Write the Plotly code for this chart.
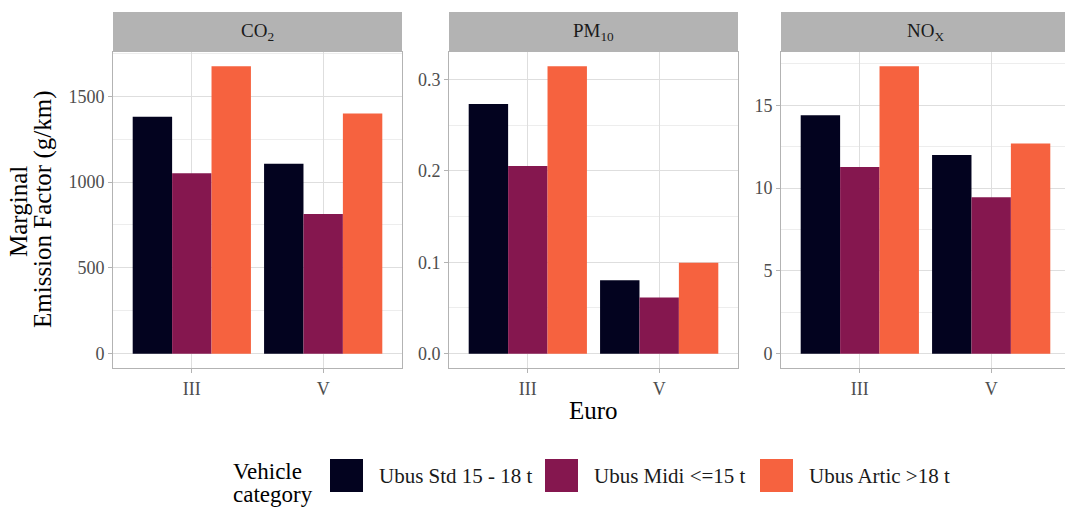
import plotly.graph_objects as go

W, H = 1065, 508

# ---- data ----
euro = ["III", "V"]
categories = ["Ubus Std 15 - 18 t", "Ubus Midi <=15 t", "Ubus Artic >18 t"]
colors = ["#03031F", "#85174F", "#F6623F"]

pollutants = ["CO<sub>2</sub>", "PM<sub>10</sub>", "NO<sub>X</sub>"]
co2 = {"Ubus Std 15 - 18 t": [1380, 1107],
       "Ubus Midi <=15 t": [1051, 813],
       "Ubus Artic >18 t": [1674, 1399]}
pm10 = {"Ubus Std 15 - 18 t": [0.2734, 0.0803],
        "Ubus Midi <=15 t": [0.2054, 0.0614],
        "Ubus Artic >18 t": [0.3145, 0.0996]}
nox = {"Ubus Std 15 - 18 t": [14.40, 12.00],
       "Ubus Midi <=15 t": [11.27, 9.44],
       "Ubus Artic >18 t": [17.35, 12.69]}
panel_data = [co2, pm10, nox]
y_dtick = [500, 0.1, 5]
y_tickformat = ["d", ".1f", "d"]

FONT = "'Liberation Serif', 'Times New Roman', 'DejaVu Serif', serif"
GRID = "#DEDEDE"
BORDER = "#B3B3B3"


def px(x):
    return x / W


def py(y):
    return 1 - y / H


# panel pixel geometry
panel_left = [113, 449, 781]
panel_w = 289
unit = panel_w / 2.2
ptop, pbot = 52, 368
strip_top = 12

fig = go.Figure()

for p, data in enumerate(panel_data):
    ax = "" if p == 0 else str(p + 1)
    for s, cat in enumerate(categories):
        fig.add_trace(go.Bar(
            x=euro, y=data[cat], name=cat,
            marker=dict(color=colors[s], line=dict(width=0)),
            xaxis="x" + ax, yaxis="y" + ax, showlegend=False,
        ))
    # expansion like ggplot (5%)
    vmax = max(max(v) for v in data.values())
    pad = 0.05 * vmax
    x0 = panel_left[p]
    x1 = min(x0 + panel_w, W)
    xr_end = -0.6 + (x1 - x0) / unit
    last = (p == 2)
    fig.layout["xaxis" + ax] = dict(
        domain=[px(x0), px(x1)], anchor="y" + ax, type="category",
        categoryorder="array", categoryarray=euro,
        range=[-0.6, xr_end], showgrid=True, gridcolor=GRID, gridwidth=1,
        showline=True, linecolor=BORDER, linewidth=1, mirror=True,
        ticks="outside", ticklen=4, tickcolor=BORDER, tickwidth=1,
        tickfont=dict(family=FONT, size=18, color="#4D4D4D"),
        fixedrange=True,
    )
    fig.layout["yaxis" + ax] = dict(
        domain=[py(pbot), py(ptop)], anchor="x" + ax,
        range=[-pad, vmax + pad], dtick=y_dtick[p], tick0=0,
        tickformat=y_tickformat[p],
        showgrid=True, gridcolor=GRID, gridwidth=1, zeroline=False,
        minor=dict(dtick=y_dtick[p] / 2, showgrid=True, gridcolor="#EDEDED", gridwidth=0.6),
        showline=True, linecolor=BORDER, linewidth=1, mirror=not last,
        ticks="outside", ticklen=4, tickcolor=BORDER, tickwidth=1,
        tickfont=dict(family=FONT, size=18, color="#4D4D4D"),
        fixedrange=True,
    )
    # strip
    fig.add_shape(type="rect", xref="paper", yref="paper",
                  x0=px(x0), x1=px(x1 if not last else W + 10), y0=py(ptop), y1=py(strip_top),
                  fillcolor="#B3B3B3", line=dict(width=0), layer="above")
    fig.add_annotation(x=px(x0 + panel_w / 2), y=py((ptop + strip_top) / 2),
                       xref="paper", yref="paper", text=pollutants[p],
                       showarrow=False, xanchor="center", yanchor="middle",
                       font=dict(family=FONT, size=19, color="#1A1A1A"))

# axis titles
fig.add_annotation(x=px(593), y=py(410), xref="paper", yref="paper",
                   text="Euro", showarrow=False, xanchor="center", yanchor="middle",
                   font=dict(family=FONT, size=25, color="#000000"))
fig.add_annotation(x=px(19), y=py(212), xref="paper", yref="paper",
                   text="Marginal", showarrow=False, textangle=-90,
                   xanchor="center", yanchor="middle",
                   font=dict(family=FONT, size=25, color="#000000"))
fig.add_annotation(x=px(43), y=py(210), xref="paper", yref="paper",
                   text="Emission Factor (g/km)", showarrow=False, textangle=-90,
                   xanchor="center", yanchor="middle",
                   font=dict(family=FONT, size=25, color="#000000"))

# legend (drawn manually to match ggplot key sizes)
fig.add_annotation(x=px(231), y=py(471), xref="paper", yref="paper",
                   text="Vehicle", showarrow=False, xanchor="left", yanchor="middle",
                   font=dict(family=FONT, size=23, color="#000000"))
fig.add_annotation(x=px(231), y=py(494), xref="paper", yref="paper",
                   text="category", showarrow=False, xanchor="left", yanchor="middle",
                   font=dict(family=FONT, size=23, color="#000000"))
key_x = [330, 545, 760]
text_x = [377, 592, 807]
for s, cat in enumerate(categories):
    fig.add_shape(type="rect", xref="paper", yref="paper",
                  x0=px(key_x[s]), x1=px(key_x[s] + 33), y0=py(492), y1=py(459),
                  fillcolor=colors[s], line=dict(width=0))
    fig.add_annotation(x=px(text_x[s]), y=py(476), xref="paper", yref="paper",
                       text=cat.replace("<", "&lt;").replace(">", "&gt;"),
                       showarrow=False, xanchor="left", yanchor="middle",
                       font=dict(family=FONT, size=21, color="#1A1A1A"))

fig.update_layout(
    width=W, height=H, margin=dict(l=0, r=0, t=0, b=0),
    paper_bgcolor="white", plot_bgcolor="white",
    barmode="group", bargap=0.1, bargroupgap=0,
    showlegend=False,
    font=dict(family=FONT),
)

fig.write_html("out.html")
